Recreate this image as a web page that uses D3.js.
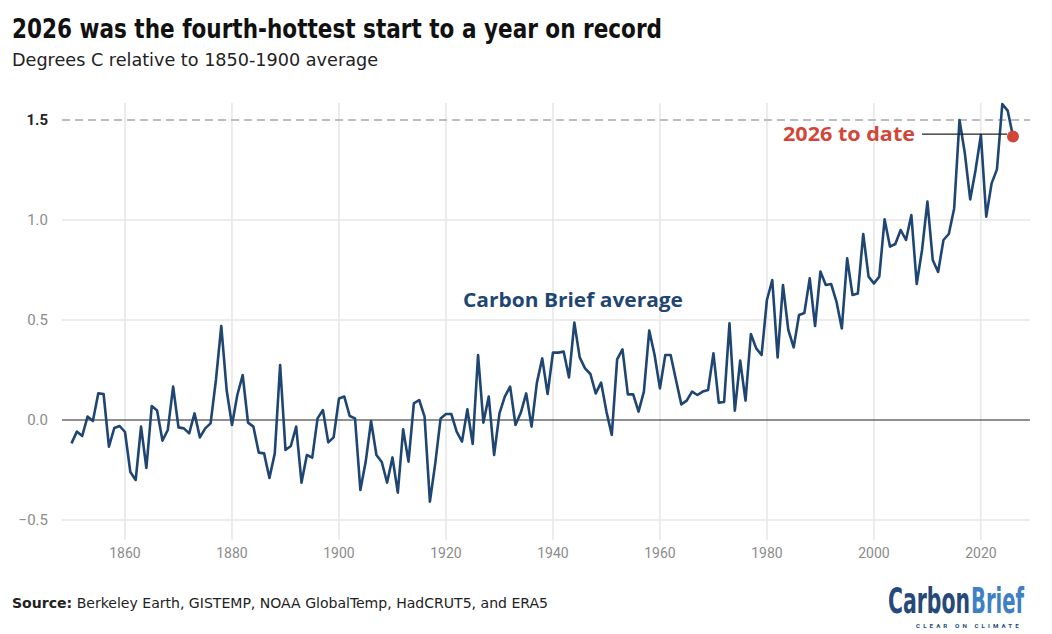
<!DOCTYPE html>
<html>
<head>
<meta charset="utf-8">
<script src="https://cdn.jsdelivr.net/npm/d3@7"></script>
<style>
  body { margin: 0; background: #fff; }
  svg { display: block; }
</style>
</head>
<body>
<div id="chart"></div>
<script>
// years shown on the chart
const years = d3.range(1850, 2027);

// Carbon Brief average, degrees C relative to 1850-1900
const anomaly = [
  -0.117, -0.058, -0.080, 0.017, -0.005, 0.133, 0.130, -0.133, -0.040, -0.030,
  -0.060, -0.260, -0.300, -0.033, -0.240, 0.070, 0.047, -0.103, -0.050, 0.167,
  -0.037, -0.042, -0.067, 0.033, -0.087, -0.042, -0.017, 0.200, 0.470, 0.150,
  -0.025, 0.125, 0.225, -0.013, -0.033, -0.163, -0.167, -0.290, -0.167, 0.275,
  -0.150, -0.130, -0.033, -0.313, -0.175, -0.188, 0.008, 0.050, -0.112, -0.087,
  0.108, 0.117, 0.020, 0.008, -0.350, -0.208, -0.005, -0.175, -0.210, -0.313,
  -0.187, -0.363, -0.047, -0.208, 0.083, 0.100, 0.017, -0.408, -0.217, 0.008,
  0.030, 0.030, -0.058, -0.108, 0.053, -0.120, 0.325, -0.013, 0.117, -0.175,
  0.033, 0.117, 0.167, -0.025, 0.037, 0.133, -0.033, 0.187, 0.308, 0.130,
  0.337, 0.337, 0.342, 0.213, 0.487, 0.313, 0.258, 0.230, 0.133, 0.187,
  0.042, -0.075, 0.303, 0.353, 0.128, 0.128, 0.042, 0.142, 0.447, 0.325,
  0.158, 0.325, 0.325, 0.200, 0.078, 0.097, 0.142, 0.125, 0.142, 0.150,
  0.333, 0.087, 0.090, 0.483, 0.047, 0.297, 0.097, 0.430, 0.358, 0.325,
  0.600, 0.700, 0.313, 0.675, 0.450, 0.363, 0.525, 0.535, 0.708, 0.470,
  0.742, 0.675, 0.680, 0.592, 0.458, 0.808, 0.625, 0.633, 0.930, 0.717,
  0.683, 0.717, 1.003, 0.867, 0.880, 0.950, 0.900, 1.025, 0.680, 0.850,
  1.092, 0.800, 0.740, 0.900, 0.930, 1.058, 1.500, 1.333, 1.103, 1.250,
  1.425, 1.017, 1.183, 1.253, 1.580, 1.547, 1.417
];

// axis ticks
const xTicks = [1860, 1880, 1900, 1920, 1940, 1960, 1980, 2000, 2020];
const yTicks = [-0.5, 0, 0.5, 1.0, 1.5];
const threshold = 1.5;

const data = years.map((y, i) => ({ year: y, value: anomaly[i] }));

const width = 1052;
const height = 634;
const navy = "#1f4672";
const red = "#d2463a";
const grey = "#8c8c8c";
const condensed = "'Liberation Sans Narrow', 'DejaVu Sans Condensed', Roboto, sans-serif";

const svg = d3.select("#chart").append("svg")
  .attr("width", width)
  .attr("height", height)
  .attr("viewBox", [0, 0, width, height]);

// scales
const x = d3.scaleLinear().domain([1850, 2026]).range([71.5, 1013]);
const y = d3.scaleLinear().domain([-0.5, 1.5]).range([520, 120]);

// squeeze text to a target width (the original uses a narrow font)
const fitText = (sel, w) => {
  const len = sel.node().getComputedTextLength();
  if (Math.abs(len - w) > 2) sel.attr("textLength", w).attr("lengthAdjust", "spacingAndGlyphs");
};

// same idea but by scaling horizontally, keeps the box honest
const squeeze = (sel, px, py, w) => {
  const len = sel.node().getComputedTextLength();
  sel.attr("transform", `translate(${px},${py}) scale(${w / len},1)`);
};

// vertical grid
svg.append("g")
  .selectAll("line")
  .data(xTicks)
  .join("line")
    .attr("x1", d => x(d)).attr("x2", d => x(d))
    .attr("y1", 103).attr("y2", 540)
    .attr("stroke", "#e6e6e6").attr("stroke-width", 1.5);

// horizontal grid
svg.append("g")
  .selectAll("line")
  .data(yTicks.filter(d => d !== 0 && d !== threshold))
  .join("line")
    .attr("x1", 62).attr("x2", 1030)
    .attr("y1", d => y(d)).attr("y2", d => y(d))
    .attr("stroke", "#e6e6e6").attr("stroke-width", 1.5);

// 1.5C dashed line
svg.append("line")
  .attr("x1", 62).attr("x2", 1030)
  .attr("y1", y(threshold)).attr("y2", y(threshold))
  .attr("stroke", "#bdbdbd").attr("stroke-width", 2)
  .attr("stroke-dasharray", "8,5");

// zero line
svg.append("line")
  .attr("x1", 62).attr("x2", 1030)
  .attr("y1", y(0)).attr("y2", y(0))
  .attr("stroke", "#222").attr("stroke-width", 1.2);

// y labels
svg.append("g")
  .selectAll("text")
  .data(yTicks)
  .join("text")
    .attr("x", 48)
    .attr("y", d => y(d) + 5)
    .attr("text-anchor", "end")
    .attr("font-family", "Roboto, sans-serif")
    .attr("font-size", 15)
    .attr("font-weight", d => d === threshold ? 700 : 400)
    .attr("fill", d => d === threshold ? "#222" : grey)
    .text(d => d3.format(".1f")(d));

// x labels
svg.append("g")
  .selectAll("text")
  .data(xTicks)
  .join("text")
    .attr("x", d => x(d))
    .attr("y", 558)
    .attr("text-anchor", "middle")
    .attr("font-family", "Roboto, sans-serif")
    .attr("font-size", 14)
    .attr("fill", grey)
    .text(d => d);

// line
const line = d3.line()
  .x(d => x(d.year))
  .y(d => y(d.value));

svg.append("path")
  .datum(data)
  .attr("fill", "none")
  .attr("stroke", navy)
  .attr("stroke-width", 2.6)
  .attr("stroke-linejoin", "round")
  .attr("d", line);

// 2026 marker + leader
const last = data[data.length - 1];
svg.append("line")
  .attr("x1", 922).attr("x2", x(last.year) - 6)
  .attr("y1", y(last.value) - 2.5).attr("y2", y(last.value) - 2.5)
  .attr("stroke", "#222").attr("stroke-width", 1.2);

svg.append("circle")
  .attr("cx", x(last.year))
  .attr("cy", y(last.value))
  .attr("r", 6)
  .attr("fill", red);

svg.append("text")
  .attr("x", 915)
  .attr("y", 141)
  .attr("text-anchor", "end")
  .attr("font-family", "'Open Sans', Roboto, sans-serif")
  .attr("font-weight", 700)
  .attr("font-size", 20)
  .attr("fill", red)
  .text("2026 to date")
  .call(fitText, 132);

svg.append("text")
  .attr("x", 463)
  .attr("y", 307)
  .attr("font-family", "'Open Sans', Roboto, sans-serif")
  .attr("font-weight", 700)
  .attr("font-size", 19.5)
  .attr("fill", navy)
  .text("Carbon Brief average")
  .call(fitText, 220);

// titles
svg.append("text")
  .attr("x", 12).attr("y", 38)
  .attr("font-family", condensed)
  .attr("font-weight", 700)
  .attr("font-size", 26)
  .attr("fill", "#111")
  .text("2026 was the fourth-hottest start to a year on record")
  .call(fitText, 650);

svg.append("text")
  .attr("x", 12).attr("y", 66)
  .attr("font-family", condensed)
  .attr("font-size", 18)
  .attr("fill", "#222")
  .text("Degrees C relative to 1850-1900 average")
  .call(fitText, 366);

// source
const src = svg.append("text")
  .attr("x", 12).attr("y", 608)
  .attr("font-family", condensed)
  .attr("font-size", 14.5)
  .attr("fill", "#222");
src.append("tspan").attr("font-weight", 700).text("Source:");
src.append("tspan").text(" Berkeley Earth, GISTEMP, NOAA GlobalTemp, HadCRUT5, and ERA5");
src.call(fitText, 536);

// logo
svg.append("text")
  .attr("font-family", condensed)
  .attr("font-weight", 700)
  .attr("font-size", 35)
  .attr("fill", "#24497a")
  .text("Carbon")
  .call(squeeze, 888, 613, 82);

svg.append("text")
  .attr("font-family", condensed)
  .attr("font-weight", 700)
  .attr("font-size", 35)
  .attr("fill", "#3d80c4")
  .text("Brief")
  .call(squeeze, 971, 613, 53);

svg.append("text")
  .attr("font-family", "Roboto, sans-serif")
  .attr("font-size", 6)
  .attr("font-weight", 700)
  .attr("fill", "#24497a")
  .attr("letter-spacing", 3)
  .text("CLEAR ON CLIMATE")
  .call(squeeze, 916, 628, 106);
</script>
</body>
</html>
